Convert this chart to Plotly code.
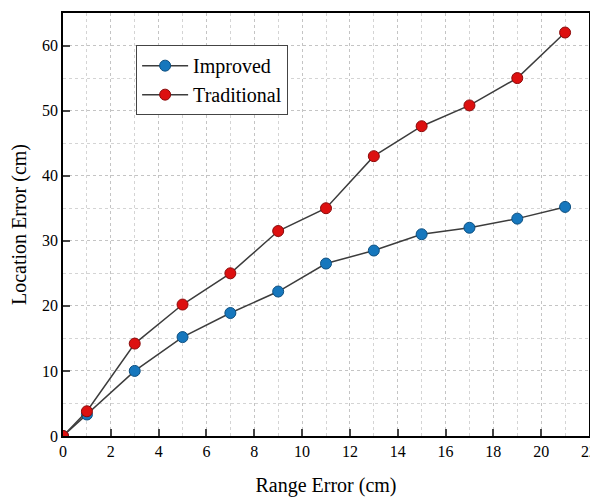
import plotly.graph_objects as go

range_error = [0, 1, 3, 5, 7, 9, 11, 13, 15, 17, 19, 21]
improved = [0, 3.3, 10.0, 15.2, 18.9, 22.2, 26.5, 28.5, 31.0, 32.0, 33.4, 35.2]
traditional = [0, 3.8, 14.2, 20.2, 25.0, 31.5, 35.0, 43.0, 47.6, 50.8, 55.0, 62.0]
x_ticks = [0, 2, 4, 6, 8, 10, 12, 14, 16, 18, 20, 22]
y_ticks = [0, 10, 20, 30, 40, 50, 60]

FONT = "Liberation Serif, Times New Roman, serif"

fig = go.Figure()
fig.add_trace(go.Scatter(
    x=range_error, y=improved, name="Improved", mode="lines+markers",
    line=dict(color="#3c3c3c", width=1.5),
    marker=dict(size=11, color="#1677bd", line=dict(color="#0d4f80", width=1)),
))
fig.add_trace(go.Scatter(
    x=range_error, y=traditional, name="Traditional", mode="lines+markers",
    line=dict(color="#3c3c3c", width=1.5),
    marker=dict(size=11, color="#dd1010", line=dict(color="#8a0a0a", width=1)),
))

grid = dict(showgrid=True, gridcolor="#c4c4c4", griddash="dot", gridwidth=1)
fig.update_xaxes(
    range=[0, 22], tickvals=x_ticks, ticks="inside", ticklen=7, tickwidth=1.5,
    showline=True, linecolor="black", linewidth=1.5, mirror=True, automargin=False,
    zeroline=False, tickfont=dict(family=FONT, size=16, color="black"),
    title=dict(text="Range Error (cm)", font=dict(family=FONT, size=20, color="black"), standoff=22),
    minor=dict(dtick=1, showgrid=True, gridcolor="#d4d4d4", griddash="dot", ticks=""),
    **grid,
)
fig.update_yaxes(
    range=[0, 65], tickvals=y_ticks, ticks="inside", ticklen=7, tickwidth=1.5,
    showline=True, linecolor="black", linewidth=1.5, mirror=True, automargin=False,
    zeroline=False, tickfont=dict(family=FONT, size=16, color="black"),
    title=dict(text="Location Error (cm)", font=dict(family=FONT, size=20, color="black"), standoff=12),
    minor=dict(dtick=5, showgrid=True, gridcolor="#d4d4d4", griddash="dot", ticks=""),
    **grid,
)
# page body adds an 8px offset; shrink the figure so the plot area lands where the reference's does
fig.update_layout(
    width=590, height=489,
    margin=dict(l=55, r=9, t=5, b=61),
    plot_bgcolor="white", paper_bgcolor="white",
    font=dict(family=FONT, color="black"),
    legend=dict(
        x=0.139, y=0.924, xanchor="left", yanchor="top",
        bordercolor="#444444", borderwidth=1, bgcolor="white",
        font=dict(family=FONT, size=20, color="black"),
        tracegroupgap=0, itemwidth=46,
    ),
    showlegend=True,
)
fig.write_html("out.html")
